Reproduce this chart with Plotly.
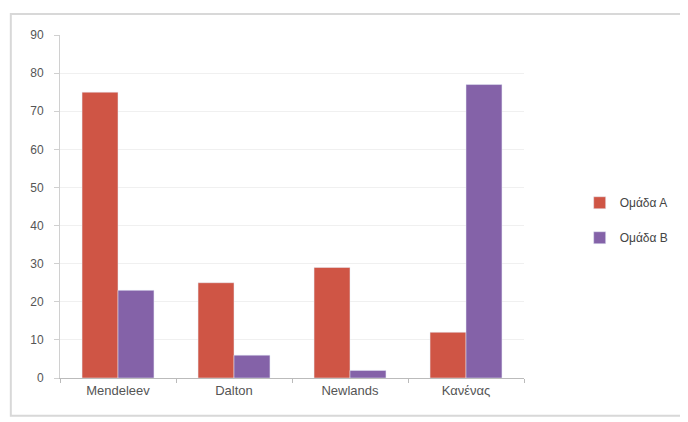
import plotly.graph_objects as go

categories = ["Mendeleev", "Dalton", "Newlands", "Κανένας"]
group_a = [75, 25, 29, 12]
group_b = [23, 6, 2, 77]
series_names = ["Ομάδα Α", "Ομάδα Β"]
y_ticks = list(range(0, 100, 10))

fig = go.Figure()
fig.add_trace(go.Bar(x=categories, y=group_a, name=series_names[0], marker_color="#CF5545",
                     legendgroup="a"))
fig.add_trace(go.Bar(x=categories, y=group_b, name=series_names[1], marker_color="#8462A8",
                     legendgroup="b"))

fig.update_layout(
    width=688, height=422,
    margin=dict(l=52, r=172, t=27, b=52),
    paper_bgcolor="white", plot_bgcolor="white",
    barmode="group", bargap=0.38, bargroupgap=0,
    font=dict(family="Liberation Sans, Arial, sans-serif", size=12, color="#555555"),
    showlegend=True,
    legend=dict(x=1.12, y=0.46, xanchor="left", yanchor="middle",
                font=dict(size=12, color="#444444"), itemwidth=30,
                tracegroupgap=16),
    shapes=[dict(type="rect", xref="paper", yref="paper",
                 x0=-0.106, x1=1.42, y0=-0.11, y1=1.061,
                 line=dict(color="#D8D8D8", width=2), fillcolor="rgba(0,0,0,0)", layer="below")],
)
fig.update_xaxes(showline=True, linecolor="#BBBBBB", ticks="outside", tickcolor="#BBBBBB",
                 ticklen=4, showgrid=False, tickson="boundaries",
                 tickfont=dict(size=13, color="#555555"))
fig.update_yaxes(range=[0, 90], tickvals=y_ticks, showline=True, linecolor="#D0D0D0",
                 ticks="outside", tickcolor="#D0D0D0", ticklen=5, ticklabelstandoff=8,
                 showgrid=True, gridcolor="#F0F0F0", zeroline=False,
                 tickfont=dict(size=12, color="#555555"))

fig.write_html("out.html")
